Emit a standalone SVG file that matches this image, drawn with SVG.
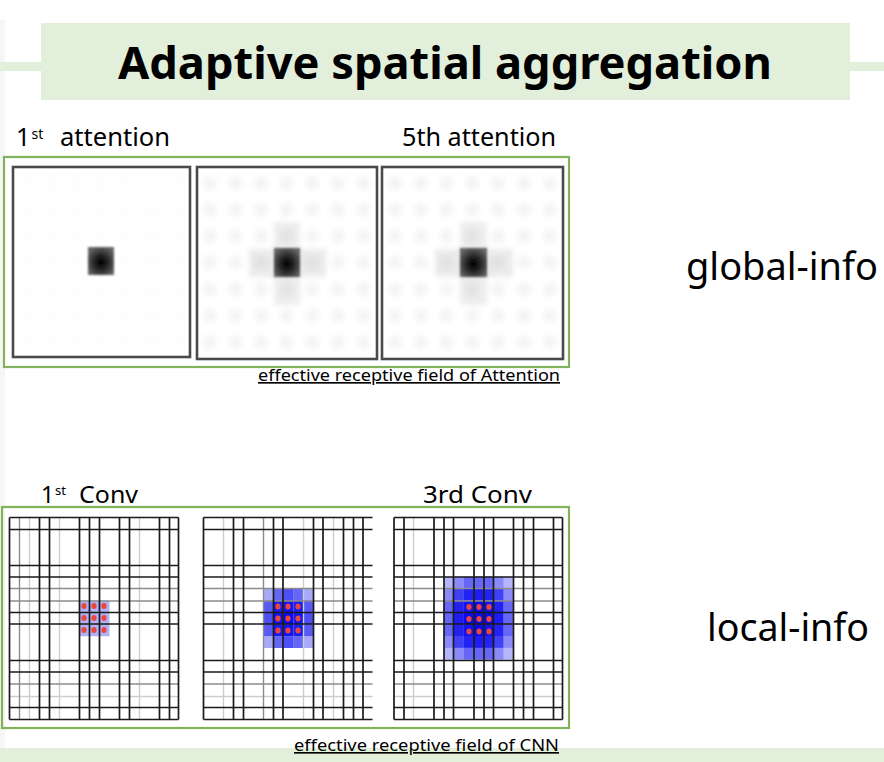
<svg xmlns="http://www.w3.org/2000/svg" width="884" height="762" viewBox="0 0 884 762">
<style>
text{font-family:"Noto Sans","Open Sans","Liberation Sans",sans-serif;fill:#000}
.dk{stroke:#1a1a1a;stroke-width:1.7;fill:none}
.gy{stroke:#8c8c8c;stroke-width:1.4;fill:none}
.lt{stroke:#cdcdcd;stroke-width:1.4;fill:none}
.frame{fill:none;stroke:#82b25c;stroke-width:2.2}
.apanel{fill:#fff;stroke:#4a4a4a;stroke-width:2.6}
.dot{fill:#e8463e}
.b{fill:#0a0af2}
.lbl{font-size:16.5px;text-decoration:underline}
</style>
<defs>
<radialGradient id="spot" cx="0.5" cy="0.55" r="0.6">
<stop offset="0" stop-color="#000"/>
<stop offset="0.4" stop-color="#222"/>
<stop offset="1" stop-color="#666"/>
</radialGradient>
<radialGradient id="blob">
<stop offset="0" stop-color="#000" stop-opacity="0.05"/>
<stop offset="1" stop-color="#000" stop-opacity="0"/>
</radialGradient>
<radialGradient id="blobf">
<stop offset="0" stop-color="#000" stop-opacity="0.008"/>
<stop offset="1" stop-color="#000" stop-opacity="0"/>
</radialGradient>
<pattern id="pat2" patternUnits="userSpaceOnUse" x="197" y="170" width="25.6" height="26.5">
<ellipse cx="12.8" cy="13.2" rx="11" ry="11" fill="url(#blob)"/>
</pattern>
<pattern id="pat3" patternUnits="userSpaceOnUse" x="382" y="170" width="25.8" height="26.5">
<ellipse cx="12.9" cy="13.2" rx="11" ry="11" fill="url(#blob)"/>
</pattern>
<pattern id="pat1" patternUnits="userSpaceOnUse" x="13" y="170" width="25.3" height="26.5">
<ellipse cx="12.6" cy="13.2" rx="11" ry="11" fill="url(#blobf)"/>
</pattern>
<filter id="soft" x="-0.5" y="-0.5" width="2" height="2"><feGaussianBlur stdDeviation="2.5"/></filter>
<filter id="soft1" x="-0.2" y="-0.2" width="1.4" height="1.4"><feGaussianBlur stdDeviation="0.8"/></filter>
</defs>

<rect width="884" height="762" fill="#fff"/>
<rect x="0" y="20" width="5" height="728" fill="#f6f6f6"/>

<g id="title">
<rect x="0" y="62" width="884" height="9" fill="#e2efda"/>
<rect x="41" y="23" width="809" height="77" fill="#e2efda"/>
<text x="118" y="79" font-size="44" font-weight="bold" textLength="654" lengthAdjust="spacingAndGlyphs">Adaptive spatial aggregation</text>
</g>

<g id="bottom-band">
<rect x="0" y="748" width="884" height="14" fill="#e2efda"/>
</g>

<g id="attention-header">
<text x="16" y="146" font-size="25">1</text>
<text x="31.5" y="139" font-size="14">st</text>
<text x="60" y="146" font-size="25" textLength="110" lengthAdjust="spacingAndGlyphs">attention</text>
<text x="402" y="146" font-size="25" textLength="154" lengthAdjust="spacingAndGlyphs">5th attention</text>
</g>

<g id="attention-frame">
<rect class="frame" x="4" y="157" width="565" height="210"/>
</g>

<g id="attention-1">
<rect class="apanel" x="13" y="167" width="177" height="190"/>
<rect x="14.5" y="168.5" width="174" height="187" fill="url(#pat1)"/>
<rect x="88" y="247" width="26" height="28" fill="url(#spot)" filter="url(#soft1)"/>
</g>

<g id="attention-2">
<rect class="apanel" x="197" y="167" width="180" height="192"/>
<rect x="198.5" y="168.5" width="177" height="189" fill="url(#pat2)"/>
<g filter="url(#soft)">
<rect x="249" y="249" width="77" height="28" fill="#000" opacity="0.08"/>
<rect x="274" y="222" width="26" height="83" fill="#000" opacity="0.07"/>
</g>
<rect x="274" y="248" width="26" height="29" fill="url(#spot)" filter="url(#soft1)"/>
</g>

<g id="attention-3">
<rect class="apanel" x="382" y="167" width="181" height="192"/>
<rect x="383.5" y="168.5" width="178" height="189" fill="url(#pat3)"/>
<g filter="url(#soft)">
<rect x="435" y="249" width="78" height="28" fill="#000" opacity="0.08"/>
<rect x="460" y="222" width="27" height="83" fill="#000" opacity="0.07"/>
</g>
<rect x="460" y="248" width="27" height="29" fill="url(#spot)" filter="url(#soft1)"/>
</g>

<g id="attention-caption">
<text class="lbl" x="258" y="381" textLength="302" lengthAdjust="spacingAndGlyphs">effective receptive field of Attention</text>
</g>

<g id="global-info">
<text x="686" y="280" font-size="38" textLength="192" lengthAdjust="spacingAndGlyphs">global-info</text>
</g>

<g id="conv-header">
<text x="41" y="503" font-size="23">1</text>
<text x="55" y="495" font-size="13">st</text>
<text x="79" y="503" font-size="23" textLength="59" lengthAdjust="spacingAndGlyphs">Conv</text>
<text x="423" y="503" font-size="23" textLength="109" lengthAdjust="spacingAndGlyphs">3rd Conv</text>
</g>

<g id="conv-frame">
<rect class="frame" x="2" y="507" width="567" height="221"/>
</g>

<g id="conv-1">
<rect x="79.5" y="600.5" width="30" height="35.7" fill="#5a5fea" opacity="0.48"/>
<path class="lt" d="M29.5 517.5V719.5M59.5 517.5V719.5M139.5 517.5V719.5M9.5 696.5H178.5"/>
<path class="gy" d="M19.5 517.5V719.5M9.5 588.5H178.5M9.5 601H178.5M9.5 684H178.5"/>
<path class="dk" d="M9.5 517.5V719.5M39.5 517.5V719.5M49.5 517.5V719.5M79.5 517.5V719.5M89.5 517.5V719.5M99.5 517.5V719.5M119.5 517.5V719.5M129.5 517.5V719.5M159.5 517.5V719.5M169.5 517.5V719.5M178.5 517.5V719.5M9.5 517.5H178.5M9.5 529.5H178.5M9.5 565.5H178.5M9.5 577H178.5M9.5 612.5H178.5M9.5 624H178.5M9.5 660.5H178.5M9.5 672H178.5M9.5 707.5H178.5M9.5 719.5H178.5"/>
<g class="dot">
<ellipse cx="84" cy="606" rx="2.6" ry="3"/><ellipse cx="94" cy="606" rx="2.6" ry="3"/><ellipse cx="104" cy="606" rx="2.6" ry="3"/>
<ellipse cx="84" cy="618" rx="2.6" ry="3"/><ellipse cx="94" cy="618" rx="2.6" ry="3"/><ellipse cx="104" cy="618" rx="2.6" ry="3"/>
<ellipse cx="84" cy="630" rx="2.6" ry="3"/><ellipse cx="94" cy="630" rx="2.6" ry="3"/><ellipse cx="104" cy="630" rx="2.6" ry="3"/>
</g>
</g>

<g id="conv-2">
<g class="b">
<rect x="263.5" y="588.5" width="10" height="12" opacity="0.35"/><rect x="273.5" y="588.5" width="10" height="12" opacity="0.62"/><rect x="283.5" y="588.5" width="10" height="12" opacity="0.72"/><rect x="293.5" y="588.5" width="10" height="12" opacity="0.62"/><rect x="303.5" y="588.5" width="10" height="12" opacity="0.35"/>
<rect x="263.5" y="600.5" width="10" height="12" opacity="0.68"/><rect x="273.5" y="600.5" width="10" height="12" opacity="0.93"/><rect x="283.5" y="600.5" width="10" height="12" opacity="0.96"/><rect x="293.5" y="600.5" width="10" height="12" opacity="0.93"/><rect x="303.5" y="600.5" width="10" height="12" opacity="0.68"/>
<rect x="263.5" y="612.5" width="10" height="11.8" opacity="0.72"/><rect x="273.5" y="612.5" width="10" height="11.8" opacity="0.96"/><rect x="283.5" y="612.5" width="10" height="11.8" opacity="1"/><rect x="293.5" y="612.5" width="10" height="11.8" opacity="0.96"/><rect x="303.5" y="612.5" width="10" height="11.8" opacity="0.72"/>
<rect x="263.5" y="624.3" width="10" height="11.9" opacity="0.68"/><rect x="273.5" y="624.3" width="10" height="11.9" opacity="0.93"/><rect x="283.5" y="624.3" width="10" height="11.9" opacity="0.96"/><rect x="293.5" y="624.3" width="10" height="11.9" opacity="0.93"/><rect x="303.5" y="624.3" width="10" height="11.9" opacity="0.68"/>
<rect x="263.5" y="636.2" width="10" height="11.8" opacity="0.35"/><rect x="273.5" y="636.2" width="10" height="11.8" opacity="0.62"/><rect x="283.5" y="636.2" width="10" height="11.8" opacity="0.72"/><rect x="293.5" y="636.2" width="10" height="11.8" opacity="0.62"/><rect x="303.5" y="636.2" width="10" height="11.8" opacity="0.35"/>
</g>
<path class="lt" d="M223.5 517.5V719.5M303.5 517.5V719.5M333.5 517.5V719.5M203.5 696.5H372.5"/>
<path class="gy" d="M263.5 517.5V719.5M203.5 588.5H372.5M203.5 601H372.5M203.5 684H372.5"/>
<path class="dk" d="M203.5 517.5V719.5M233.5 517.5V719.5M243.5 517.5V719.5M273.5 517.5V719.5M283 517.5V719.5M313.5 517.5V719.5M323 517.5V719.5M343.5 517.5V719.5M353.5 517.5V719.5M363 517.5V719.5M203.5 517.5H372.5M203.5 529.5H372.5M203.5 565.5H372.5M203.5 577H372.5M203.5 612.5H372.5M203.5 624H372.5M203.5 660.5H372.5M203.5 672H372.5M203.5 707.5H372.5M203.5 719.5H372.5"/>
<g class="dot">
<ellipse cx="278" cy="606.5" rx="2.6" ry="3"/><ellipse cx="288" cy="606.5" rx="2.6" ry="3"/><ellipse cx="298" cy="606.5" rx="2.6" ry="3"/>
<ellipse cx="278" cy="618.5" rx="2.6" ry="3"/><ellipse cx="288" cy="618.5" rx="2.6" ry="3"/><ellipse cx="298" cy="618.5" rx="2.6" ry="3"/>
<ellipse cx="278" cy="630.5" rx="2.6" ry="3"/><ellipse cx="288" cy="630.5" rx="2.6" ry="3"/><ellipse cx="298" cy="630.5" rx="2.6" ry="3"/>
</g>
</g>

<g id="conv-3">
<g class="b">
<rect x="444" y="576.7" width="9.9" height="11.8" opacity="0.3"/><rect x="453.9" y="576.7" width="10" height="11.8" opacity="0.48"/><rect x="463.9" y="576.7" width="9.9" height="11.8" opacity="0.62"/><rect x="473.8" y="576.7" width="9.9" height="11.8" opacity="0.62"/><rect x="483.7" y="576.7" width="9.9" height="11.8" opacity="0.62"/><rect x="493.6" y="576.7" width="10" height="11.8" opacity="0.48"/><rect x="503.6" y="576.7" width="9.9" height="11.8" opacity="0.3"/>
<rect x="444" y="588.5" width="9.9" height="11.9" opacity="0.48"/><rect x="453.9" y="588.5" width="10" height="11.9" opacity="0.78"/><rect x="463.9" y="588.5" width="9.9" height="11.9" opacity="0.9"/><rect x="473.8" y="588.5" width="9.9" height="11.9" opacity="0.92"/><rect x="483.7" y="588.5" width="9.9" height="11.9" opacity="0.9"/><rect x="493.6" y="588.5" width="10" height="11.9" opacity="0.78"/><rect x="503.6" y="588.5" width="9.9" height="11.9" opacity="0.48"/>
<rect x="444" y="600.4" width="9.9" height="11.9" opacity="0.62"/><rect x="453.9" y="600.4" width="10" height="11.9" opacity="0.9"/><rect x="463.9" y="600.4" width="9.9" height="11.9" opacity="0.97"/><rect x="473.8" y="600.4" width="9.9" height="11.9" opacity="1"/><rect x="483.7" y="600.4" width="9.9" height="11.9" opacity="0.97"/><rect x="493.6" y="600.4" width="10" height="11.9" opacity="0.9"/><rect x="503.6" y="600.4" width="9.9" height="11.9" opacity="0.62"/>
<rect x="444" y="612.3" width="9.9" height="11.8" opacity="0.62"/><rect x="453.9" y="612.3" width="10" height="11.8" opacity="0.92"/><rect x="463.9" y="612.3" width="9.9" height="11.8" opacity="1"/><rect x="473.8" y="612.3" width="9.9" height="11.8" opacity="1"/><rect x="483.7" y="612.3" width="9.9" height="11.8" opacity="1"/><rect x="493.6" y="612.3" width="10" height="11.8" opacity="0.92"/><rect x="503.6" y="612.3" width="9.9" height="11.8" opacity="0.62"/>
<rect x="444" y="624.1" width="9.9" height="11.9" opacity="0.62"/><rect x="453.9" y="624.1" width="10" height="11.9" opacity="0.9"/><rect x="463.9" y="624.1" width="9.9" height="11.9" opacity="0.97"/><rect x="473.8" y="624.1" width="9.9" height="11.9" opacity="1"/><rect x="483.7" y="624.1" width="9.9" height="11.9" opacity="0.97"/><rect x="493.6" y="624.1" width="10" height="11.9" opacity="0.9"/><rect x="503.6" y="624.1" width="9.9" height="11.9" opacity="0.62"/>
<rect x="444" y="636" width="9.9" height="11.9" opacity="0.48"/><rect x="453.9" y="636" width="10" height="11.9" opacity="0.78"/><rect x="463.9" y="636" width="9.9" height="11.9" opacity="0.9"/><rect x="473.8" y="636" width="9.9" height="11.9" opacity="0.92"/><rect x="483.7" y="636" width="9.9" height="11.9" opacity="0.9"/><rect x="493.6" y="636" width="10" height="11.9" opacity="0.78"/><rect x="503.6" y="636" width="9.9" height="11.9" opacity="0.48"/>
<rect x="444" y="647.9" width="9.9" height="11.8" opacity="0.3"/><rect x="453.9" y="647.9" width="10" height="11.8" opacity="0.48"/><rect x="463.9" y="647.9" width="9.9" height="11.8" opacity="0.62"/><rect x="473.8" y="647.9" width="9.9" height="11.8" opacity="0.62"/><rect x="483.7" y="647.9" width="9.9" height="11.8" opacity="0.62"/><rect x="493.6" y="647.9" width="10" height="11.8" opacity="0.48"/><rect x="503.6" y="647.9" width="9.9" height="11.8" opacity="0.3"/>
</g>
<path class="lt" d="M413.5 517.5V719.5M394 696.5H562.5"/>
<path class="gy" d="M394 588.5H562.5M394 601H562.5M394 684H562.5"/>
<path class="dk" d="M394 517.5V719.5M404 517.5V719.5M434 517.5V719.5M444 517.5V719.5M453.5 517.5V719.5M474 517.5V719.5M484 517.5V719.5M493.5 517.5V719.5M513.5 517.5V719.5M523.5 517.5V719.5M533.5 517.5V719.5M553.5 517.5V719.5M562.5 517.5V719.5M394 517.5H562.5M394 529.5H562.5M394 565.5H562.5M394 577H562.5M394 612.5H562.5M394 624H562.5M394 660.5H562.5M394 672H562.5M394 707.5H562.5M394 719.5H562.5"/>
<g class="dot">
<ellipse cx="469" cy="607" rx="2.6" ry="3"/><ellipse cx="479" cy="607" rx="2.6" ry="3"/><ellipse cx="489" cy="607" rx="2.6" ry="3"/>
<ellipse cx="469" cy="619" rx="2.6" ry="3"/><ellipse cx="479" cy="619" rx="2.6" ry="3"/><ellipse cx="489" cy="619" rx="2.6" ry="3"/>
<ellipse cx="469" cy="631.5" rx="2.6" ry="3"/><ellipse cx="479" cy="631.5" rx="2.6" ry="3"/><ellipse cx="489" cy="631.5" rx="2.6" ry="3"/>
</g>
</g>

<g id="conv-caption">
<text class="lbl" x="294" y="751" textLength="265" lengthAdjust="spacingAndGlyphs">effective receptive field of CNN</text>
</g>

<g id="local-info">
<text x="707" y="641" font-size="38" textLength="162" lengthAdjust="spacingAndGlyphs">local-info</text>
</g>

<g id="connectors"></g>
</svg>
